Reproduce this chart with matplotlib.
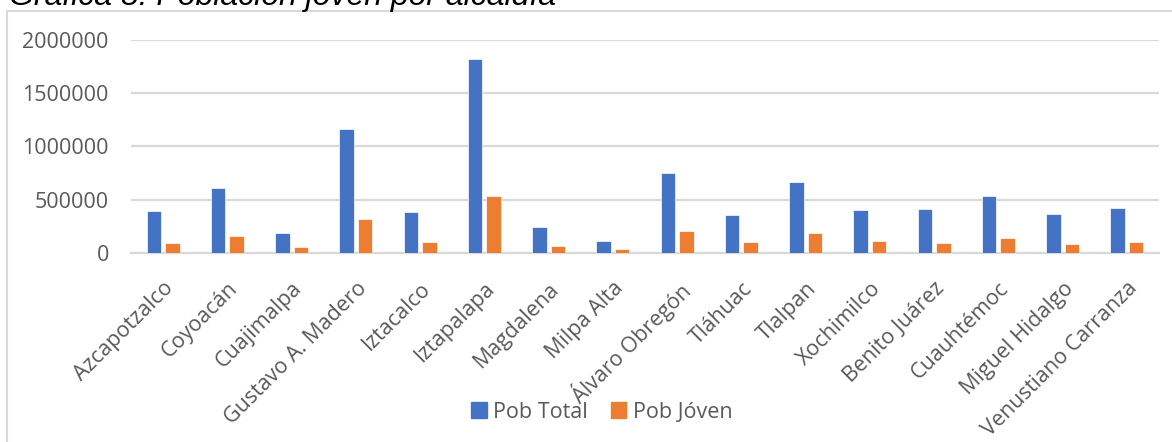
"""Bar chart: total and young population by alcaldía (CDMX)."""

import matplotlib.pyplot as plt
import numpy as np
from matplotlib.patches import Patch, Rectangle

alcaldias = [
    "Azcapotzalco", "Coyoacán", "Cuajimalpa", "Gustavo A. Madero",
    "Iztacalco", "Iztapalapa", "Magdalena", "Milpa Alta",
    "Álvaro Obregón", "Tláhuac", "Tlalpan", "Xochimilco",
    "Benito Juárez", "Cuauhtémoc", "Miguel Hidalgo", "Venustiano Carranza",
]
pob_total = [
    396000, 606000, 190000, 1162000,
    384000, 1822000, 240000, 116000,
    747000, 356000, 662000, 403000,
    412000, 531000, 362000, 425000,
]
pob_joven = [
    98000, 155000, 55000, 318000,
    101000, 537000, 64000, 37000,
    206000, 106000, 188000, 116000,
    94000, 141000, 87000, 106000,
]
y_ticks = [0, 500000, 1000000, 1500000, 2000000]

BLUE = "#4472C4"
ORANGE = "#ED7D31"
GRID = "#d9d9d9"
TEXT = "#595959"
FONT = "Open Sans"

W, H = 1172, 442
fig = plt.figure(figsize=(W / 100, H / 100), dpi=100)
ax = fig.add_axes([131 / W, 1 - 253 / H, (1159 - 131) / W, (253 - 40) / H])

x = np.arange(len(alcaldias))
bw = 0.225
gap = 0.06
ax.bar(x - (bw + gap) / 2, pob_total, bw, color=BLUE, edgecolor="white",
       linewidth=0.5, zorder=3)
ax.bar(x + (bw + gap) / 2, pob_joven, bw, color=ORANGE, edgecolor="white",
       linewidth=0.5, zorder=3)

ax.set_xlim(-0.5, len(alcaldias) - 0.5)
ax.set_ylim(0, 2000000)
ax.set_yticks(y_ticks)
ax.set_yticklabels([str(v) for v in y_ticks], family=FONT, fontsize=15.5,
                   color=TEXT)
ax.set_xticks(x)
ax.set_xticklabels(alcaldias, rotation=45, ha="right", va="top",
                   rotation_mode="anchor", family=FONT, fontsize=15.5,
                   color=TEXT)
ax.tick_params(axis="y", length=0, pad=16)
ax.tick_params(axis="x", length=0, pad=18)
ax.yaxis.grid(True, color=GRID, linewidth=1.6, zorder=0)
ax.set_axisbelow(True)
for side in ("top", "right", "left"):
    ax.spines[side].set_visible(False)
ax.spines["bottom"].set_color(GRID)
ax.spines["bottom"].set_linewidth(1.6)

# chart frame, open to the right and bottom
fig.patches.append(Rectangle((6.5 / W, -0.1), 1.2, 431 / H + 0.1,
                             transform=fig.transFigure, fill=False,
                             edgecolor=GRID, linewidth=1.5))

fig.text(9 / W, 1 - 5 / H, "Gráfica 8. Población joven por alcaldía",
         family="Liberation Sans", style="italic", fontsize=23,
         color="black", va="baseline", ha="left")

handles = [Patch(color=BLUE, label="Pob Total"),
           Patch(color=ORANGE, label="Pob Jóven")]
fig.legend(handles=handles, loc="center", bbox_to_anchor=(602 / W, 1 - 412 / H),
           ncol=2, frameon=False, handlelength=0.7, handleheight=0.7,
           handletextpad=0.3, columnspacing=1.1,
           prop={"family": FONT, "size": 15.5}, labelcolor=TEXT)

fig.savefig("out.png", dpi=100)
